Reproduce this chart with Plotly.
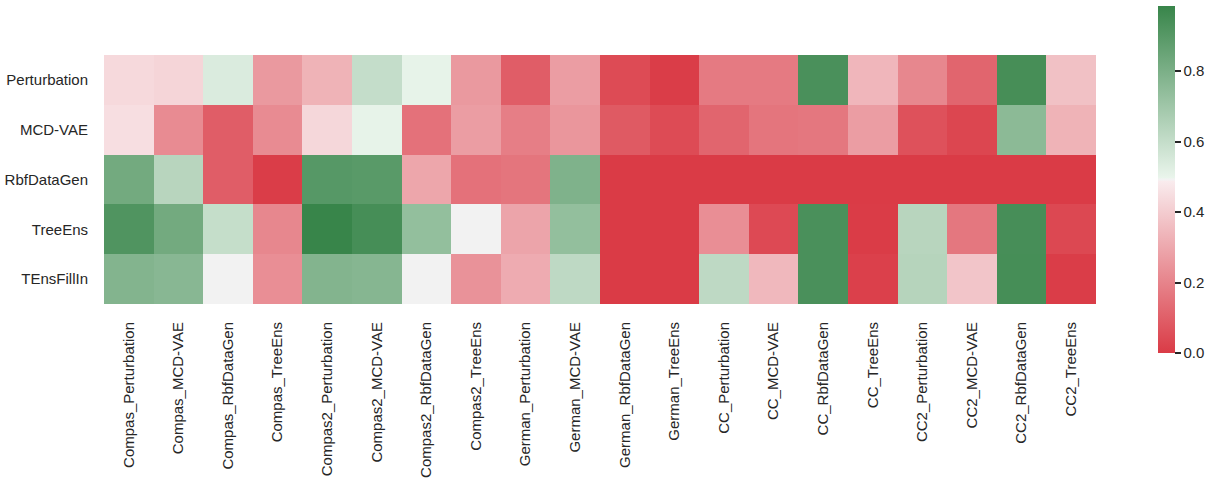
import plotly.graph_objects as go

rows = ["Perturbation", "MCD-VAE", "RbfDataGen", "TreeEns", "TEnsFillIn"]
cols = ["Compas_Perturbation", "Compas_MCD-VAE", "Compas_RbfDataGen", "Compas_TreeEns",
        "Compas2_Perturbation", "Compas2_MCD-VAE", "Compas2_RbfDataGen", "Compas2_TreeEns",
        "German_Perturbation", "German_MCD-VAE", "German_RbfDataGen", "German_TreeEns",
        "CC_Perturbation", "CC_MCD-VAE", "CC_RbfDataGen", "CC_TreeEns",
        "CC2_Perturbation", "CC2_MCD-VAE", "CC2_RbfDataGen", "CC2_TreeEns"]

perturbation = [0.435, 0.425, 0.54, 0.26, 0.33, 0.60, 0.505, 0.26, 0.095, 0.27,
                0.045, 0.005, 0.175, 0.175, 0.935, 0.34, 0.21, 0.115, 0.945, 0.37]
mcd_vae = [0.45, 0.22, 0.095, 0.22, 0.43, 0.505, 0.15, 0.27, 0.185, 0.25,
           0.085, 0.045, 0.115, 0.16, 0.165, 0.27, 0.06, 0.03, 0.755, 0.33]
rbfdatagen = [0.824, 0.634, 0.095, 0.005, 0.902, 0.895, 0.295, 0.15, 0.16, 0.79,
              0.0, 0.0, 0.0, 0.0, 0.0, 0.0, 0.0, 0.0, 0.0, 0.0]
treeens = [0.92, 0.824, 0.598, 0.21, 0.985, 0.946, 0.734, 0.493, 0.29, 0.734,
           0.0, 0.0, 0.23, 0.04, 0.935, 0.003, 0.634, 0.165, 0.944, 0.035]
tensfillin = [0.78, 0.766, 0.493, 0.23, 0.78, 0.77, 0.493, 0.24, 0.31, 0.617,
              0.0, 0.0, 0.617, 0.345, 0.935, 0.015, 0.64, 0.38, 0.946, 0.005]

z = [perturbation, mcd_vae, rbfdatagen, treeens, tensfillin]

colorscale = [[0.0, "#da3b46"], [0.496, "#f9ecee"], [0.498, "#f2f2f2"],
              [0.502, "#f2f2f2"], [0.504, "#eaf5ec"], [1.0, "#38854a"]]

W, H = 1215, 482
L, R, T, B = 104, 119, 55, 178
plot_h = H - T - B
plot_w = W - L - R
FONT = "Liberation Sans, Arial, sans-serif"
TXT = "#262626"

fig = go.Figure(go.Heatmap(
    z=z, x=cols, y=rows, colorscale=colorscale, zmin=0, zmax=0.985,
    colorbar=dict(
        thickness=17, lenmode="pixels", len=347, xpad=0, ypad=0,
        x=(1158 - L) / plot_w, xanchor="left",
        y=(H - B - 6) / plot_h, yanchor="top",
        outlinewidth=0, ticks="outside", ticklen=6, tickwidth=1.5, tickcolor=TXT,
        tickvals=[0, 0.2, 0.4, 0.6, 0.8], ticktext=["0.0", "0.2", "0.4", "0.6", "0.8"],
        tickfont=dict(size=15, color=TXT, family=FONT),
    ),
))

fig.update_layout(
    width=W, height=H,
    margin=dict(l=L, r=R, t=T, b=B, autoexpand=False),
    plot_bgcolor="white", paper_bgcolor="white",
    font=dict(family=FONT, size=15, color=TXT),
    xaxis=dict(tickangle=-90, showgrid=False, zeroline=False, ticks="outside",
               ticklen=11, tickcolor="rgba(0,0,0,0)", automargin=False),
    yaxis=dict(autorange="reversed", showgrid=False, zeroline=False, ticks="outside",
               ticklen=12, tickcolor="rgba(0,0,0,0)", automargin=False),
)

fig.write_html("out.html", config={"displayModeBar": False},
               post_script="document.body.style.margin='0';document.body.style.overflow='hidden';")
